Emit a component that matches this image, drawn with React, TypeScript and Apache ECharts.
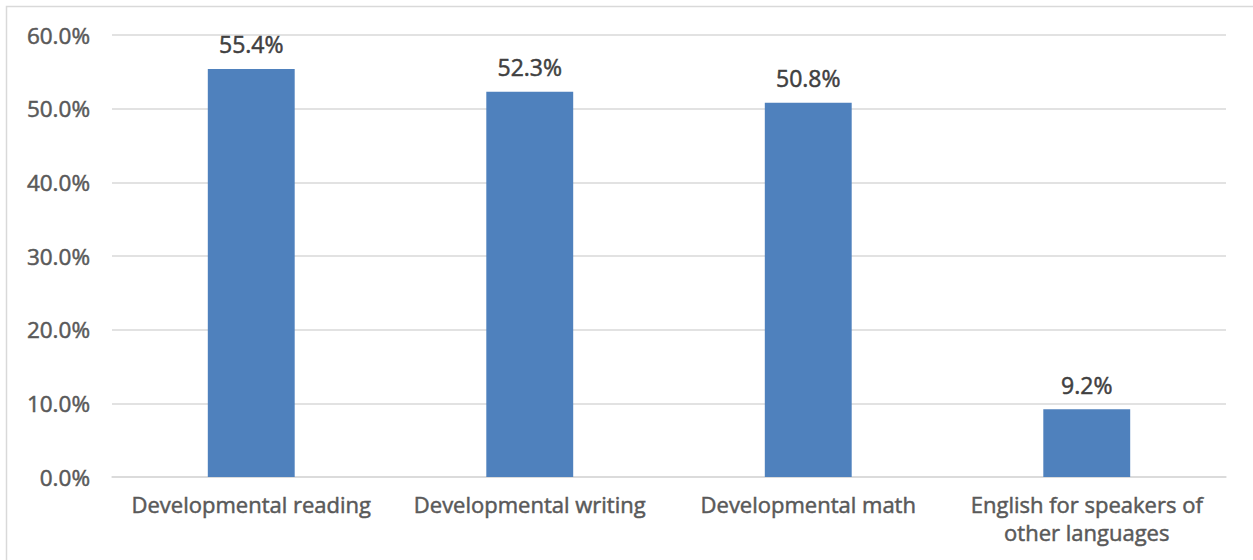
import React, { useEffect, useRef } from "react";
import * as echarts from "echarts";

const categories = [
  "Developmental reading",
  "Developmental writing",
  "Developmental math",
  "English for speakers of\nother languages",
];
const shares = [55.4, 52.3, 50.8, 9.2];
const yTicks = { min: 0, max: 60, interval: 10 };

const FONT = "'Open Sans', 'Liberation Sans', Arial, sans-serif";
const AXIS_TEXT = "#595959";
const VALUE_TEXT = "#404040";

export default function App() {
  const ref = useRef<HTMLDivElement>(null);

  useEffect(() => {
    if (!ref.current) return;
    const chart = echarts.init(ref.current, undefined, { renderer: "svg" });
    chart.setOption({
      animation: false,
      backgroundColor: "#ffffff",
      textStyle: { fontFamily: FONT },
      grid: { left: 112, right: 27, top: 35, bottom: 83, containLabel: false },
      graphic: [
        {
          type: "rect",
          shape: { x: 6.5, y: 6.5, width: 1260, height: 570 },
          style: { fill: "none", stroke: "#d9d9d9", lineWidth: 1.5 },
          silent: true,
          z: -10,
        },
      ],
      xAxis: {
        type: "category",
        data: categories,
        axisLine: { show: true, lineStyle: { color: "#d9d9d9", width: 1.5 } },
        axisTick: { show: false },
        axisLabel: {
          color: AXIS_TEXT,
          fontSize: 22,
          fontFamily: FONT,
          textBorderColor: AXIS_TEXT,
          textBorderWidth: 0.5,
          lineHeight: 28,
          margin: 13,
          interval: 0,
        },
      },
      yAxis: {
        type: "value",
        min: yTicks.min,
        max: yTicks.max,
        interval: yTicks.interval,
        axisLine: { show: false },
        axisTick: { show: false },
        splitLine: { lineStyle: { color: "#d9d9d9", width: 1.5 } },
        axisLabel: {
          color: AXIS_TEXT,
          fontSize: 22.5,
          fontFamily: FONT,
          textBorderColor: AXIS_TEXT,
          textBorderWidth: 0.5,
          margin: 22,
          formatter: (v: number) => v.toFixed(1) + "%",
        },
      },
      series: [
        {
          type: "bar",
          data: shares,
          barWidth: "31.2%",
          itemStyle: { color: "#4f81bd" },
          label: {
            show: true,
            position: "top",
            distance: 13,
            color: VALUE_TEXT,
            fontSize: 23,
            fontFamily: FONT,
            textBorderColor: VALUE_TEXT,
            textBorderWidth: 0.5,
            formatter: (p: any) => Number(p.value).toFixed(1) + "%",
          },
        },
      ],
    });
    return () => chart.dispose();
  }, []);

  return (
    <div
      ref={ref}
      style={{ position: "fixed", left: 0, top: 0, width: 1253, height: 560 }}
    />
  );
}
